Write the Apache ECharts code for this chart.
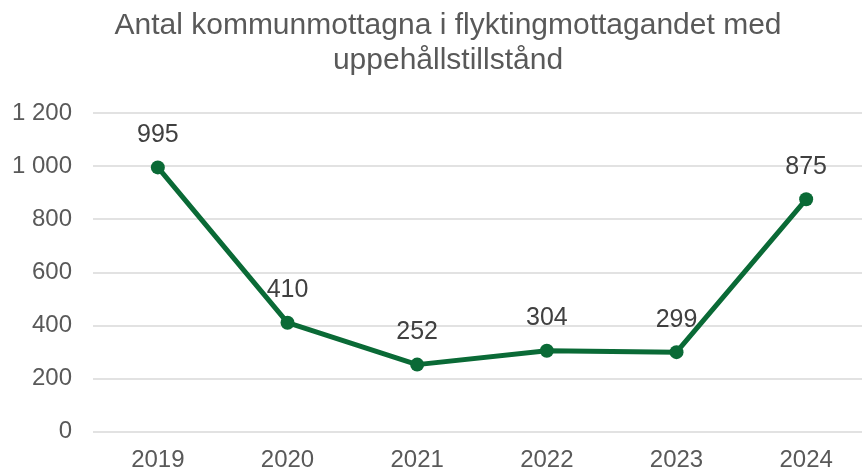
<!DOCTYPE html>
<html>
<head>
<meta charset="utf-8">
<script src="https://cdn.jsdelivr.net/npm/echarts@6/dist/echarts.min.js"></script>
<style>
  html, body { margin: 0; padding: 0; background: #fff; }
  #main { width: 862px; height: 470px; }
</style>
</head>
<body>
<div id="main"></div>
<script>
// data
const years = ['2019', '2020', '2021', '2022', '2023', '2024']
const antal = [995, 410, 252, 304, 299, 875]
const yTicks = [0, 200, 400, 600, 800, 1000, 1200]

const green = '#0a6a36'
const font = '"Liberation Sans", Arial, sans-serif'

// tal med mellanslag som tusentalsavgränsare
const fmt = v => String(v).replace(/\B(?=(\d{3})+(?!\d))/g, ' ')

const chart = echarts.init(document.getElementById('main'), null, { renderer: 'canvas' })
chart.setOption({
  animation: false,
  title: {
    text: 'Antal kommunmottagna i flyktingmottagandet med\nuppehållstillstånd',
    left: 443,
    textAlign: 'center',
    top: 3,
    textStyle: {
      fontFamily: font,
      fontSize: 30,
      fontWeight: 'normal',
      color: '#595959',
      lineHeight: 35
    }
  },
  grid: {
    left: 93,
    top: 113,
    width: 778,
    height: 318.5,
    outerBoundsMode: 'none'
  },
  xAxis: {
    type: 'category',
    data: years,
    boundaryGap: true,
    axisLine: { show: false },
    axisTick: { show: false },
    axisLabel: {
      margin: 17,
      fontFamily: font,
      fontSize: 24,
      color: '#595959'
    }
  },
  yAxis: {
    type: 'value',
    min: yTicks[0],
    max: yTicks[yTicks.length - 1],
    interval: 200,
    axisLine: { show: false },
    axisTick: { show: false },
    axisLabel: {
      margin: 21,
      fontFamily: font,
      fontSize: 24,
      color: '#595959',
      formatter: fmt
    },
    splitLine: { lineStyle: { color: '#d9d9d9', width: 1.5 } }
  },
  series: [
    {
      type: 'line',
      data: antal,
      symbol: 'circle',
      symbolSize: 14,
      lineStyle: { color: green, width: 5 },
      itemStyle: { color: green },
      label: {
        show: true,
        position: 'top',
        distance: 13,
        fontFamily: font,
        fontSize: 25,
        color: '#404040',
        formatter: p => fmt(p.value)
      }
    }
  ]
})
</script>
</body>
</html>
